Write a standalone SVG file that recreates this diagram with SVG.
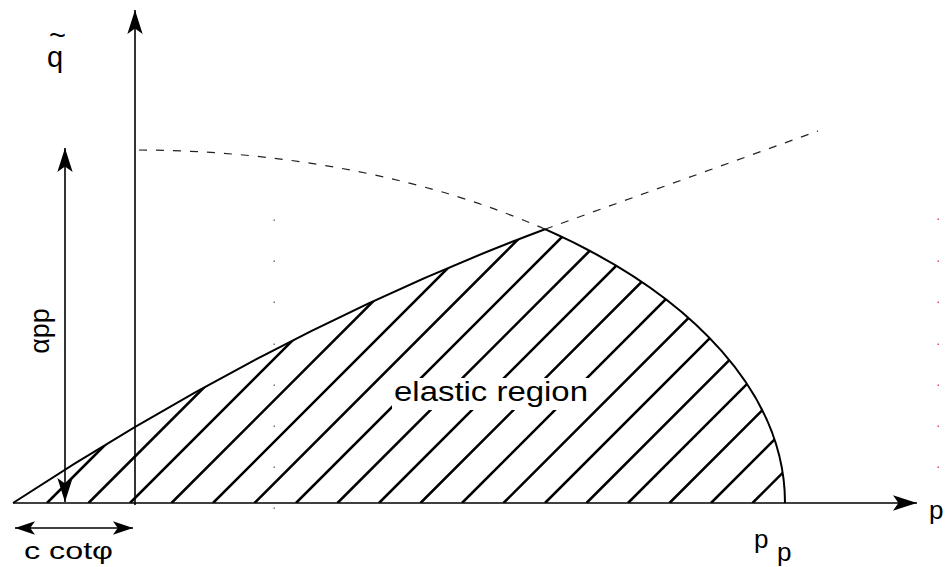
<svg xmlns="http://www.w3.org/2000/svg" width="945" height="567" viewBox="0 0 945 567">
<style>
.ax{fill:none;stroke:#000;stroke-width:1.6}
.bd{fill:none;stroke:#000;stroke-width:2}
.dash{fill:none;stroke:#222;stroke-width:1.2;stroke-dasharray:8 9}
.hatch{fill:none;stroke:#000;stroke-width:2.6}
.t{font-family:"Liberation Sans",Arial,sans-serif;fill:#000}
.dg{fill:#778}
.dr{fill:#e05060}
</style>
<defs>
<marker id="ah" markerUnits="userSpaceOnUse" markerWidth="24" markerHeight="16" viewBox="0 0 22 14" refX="22" refY="7" orient="auto-start-reverse">
<path d="M0,0 L22,7 L0,14 L5,7 Z" fill="#000"/>
</marker>
<marker id="ahs" markerUnits="userSpaceOnUse" markerWidth="20" markerHeight="14" viewBox="0 0 19 13" refX="19" refY="6.5" orient="auto-start-reverse">
<path d="M0,0 L19,6.5 L0,13 L4.5,6.5 Z" fill="#000"/>
</marker>
<clipPath id="region">
<path d="M13,503 Q279,328.7 545,229.2 A651,353 0 0 1 785,503 Z"/>
</clipPath>
</defs>
<rect width="945" height="567" fill="#fff"/>

<g id="grid-dots">
<rect class="dg" x="273.5" y="219.5" width="1.5" height="1.5"/>
<rect class="dg" x="273.5" y="260.5" width="1.5" height="1.5"/>
<rect class="dg" x="273.5" y="301.5" width="1.5" height="1.5"/>
<rect class="dg" x="273.5" y="343.5" width="1.5" height="1.5"/>
<rect class="dg" x="273.5" y="384.5" width="1.5" height="1.5"/>
<rect class="dg" x="273.5" y="425.5" width="1.5" height="1.5"/>
<rect class="dg" x="273.5" y="466.5" width="1.5" height="1.5"/>
<rect class="dg" x="273.5" y="507.5" width="1.5" height="1.5"/>
<rect class="dr" x="937.5" y="218.5" width="1.5" height="1.5"/>
<rect class="dr" x="937.5" y="260.5" width="1.5" height="1.5"/>
<rect class="dr" x="937.5" y="301.5" width="1.5" height="1.5"/>
<rect class="dr" x="937.5" y="343.5" width="1.5" height="1.5"/>
<rect class="dr" x="937.5" y="384.5" width="1.5" height="1.5"/>
<rect class="dr" x="937.5" y="425.5" width="1.5" height="1.5"/>
<rect class="dr" x="937.5" y="466.5" width="1.5" height="1.5"/>
</g>

<g id="elastic-region">
<g clip-path="url(#region)">
<path class="hatch" d="M47,503 L467,83 M88.5,503 L508.5,83 M130,503 L550,83 M171.5,503 L591.5,83 M213,503 L633,83 M254.5,503 L674.5,83 M296,503 L716,83 M337.5,503 L757.5,83 M379,503 L799,83 M420.5,503 L840.5,83 M462,503 L882,83 M503.5,503 L923.5,83 M545,503 L965,83 M586.5,503 L1006.5,83 M628,503 L1048,83 M669.5,503 L1089.5,83 M711,503 L1131,83 M752.5,503 L1172.5,83"/>
</g>
<path class="bd" d="M13,503 Q279,328.7 545,229.2 A651,353 0 0 1 785,503"/>
<rect x="392" y="378" width="198" height="32" fill="#fff"/>
<text class="t" x="394" y="401" font-size="27" textLength="194" lengthAdjust="spacingAndGlyphs">elastic region</text>
</g>

<g id="yield-extensions">
<path class="dash" d="M139,150 A651,353 0 0 1 545,229.2"/>
<path class="dash" d="M545,229.2 L818,131"/>
</g>

<g id="connectors">
<line class="ax" x1="13" y1="503" x2="917" y2="503" marker-end="url(#ah)"/>
<line class="ax" x1="135" y1="505" x2="135" y2="10" marker-end="url(#ah)"/>
<line class="ax" x1="65" y1="148" x2="65" y2="502" marker-start="url(#ah)" marker-end="url(#ah)"/>
<line class="ax" x1="15" y1="528" x2="133" y2="528" marker-start="url(#ahs)" marker-end="url(#ahs)"/>
</g>

<g id="labels">
<text class="t" x="47" y="67" font-size="29">q<tspan x="49" y="45">~</tspan></text>
<text class="t" font-size="27" text-anchor="middle" transform="translate(49,331) rotate(-90)">αpp</text>
<text class="t" x="24" y="559" font-size="24" textLength="89" lengthAdjust="spacingAndGlyphs">c cotφ</text>
<text class="t" x="754" y="548" font-size="26">p</text>
<text class="t" x="777" y="561" font-size="26">p</text>
<text class="t" x="929" y="519" font-size="26">p</text>
</g>
</svg>
